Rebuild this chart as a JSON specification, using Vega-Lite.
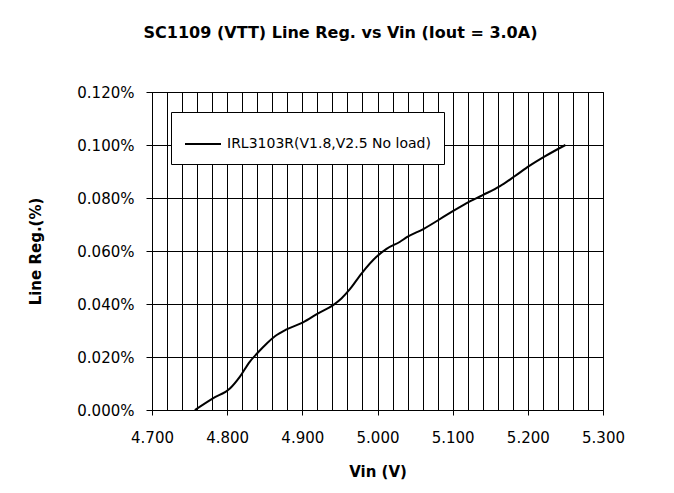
{
  "$schema": "https://vega.github.io/schema/vega-lite/v6.json",
  "autosize": "none",
  "width": 451,
  "height": 318,
  "padding": {"left": 152, "top": 92, "right": 71, "bottom": 83},
  "background": "white",
  "title": {
    "text": "SC1109 (VTT) Line Reg. vs Vin (Iout = 3.0A)",
    "font": "DejaVu Sans",
    "fontSize": 16,
    "fontWeight": "bold",
    "color": "black",
    "anchor": "middle",
    "dx": -37,
    "offset": 44
  },
  "data": {
    "values": [
      {"vin": 4.757, "reg": 0},
      {"vin": 4.781, "reg": 0.0044},
      {"vin": 4.804, "reg": 0.0082},
      {"vin": 4.817, "reg": 0.0126},
      {"vin": 4.830, "reg": 0.0182},
      {"vin": 4.840, "reg": 0.0214},
      {"vin": 4.853, "reg": 0.0252},
      {"vin": 4.864, "reg": 0.0279},
      {"vin": 4.879, "reg": 0.0304},
      {"vin": 4.901, "reg": 0.0331},
      {"vin": 4.921, "reg": 0.0365},
      {"vin": 4.941, "reg": 0.0396},
      {"vin": 4.952, "reg": 0.0421},
      {"vin": 4.963, "reg": 0.0455},
      {"vin": 4.979, "reg": 0.0516},
      {"vin": 4.999, "reg": 0.0579},
      {"vin": 5.012, "reg": 0.0608},
      {"vin": 5.030, "reg": 0.0635},
      {"vin": 5.039, "reg": 0.0652},
      {"vin": 5.061, "reg": 0.0683},
      {"vin": 5.092, "reg": 0.0736},
      {"vin": 5.118, "reg": 0.0780},
      {"vin": 5.140, "reg": 0.0811},
      {"vin": 5.163, "reg": 0.0845},
      {"vin": 5.182, "reg": 0.0881},
      {"vin": 5.202, "reg": 0.0921},
      {"vin": 5.222, "reg": 0.0956},
      {"vin": 5.250, "reg": 0.1000}
    ]
  },
  "mark": {"type": "line", "interpolate": "monotone", "strokeWidth": 2, "clip": true},
  "encoding": {
    "x": {
      "field": "vin",
      "type": "quantitative",
      "scale": {"domain": [4.7, 5.3], "nice": false, "zero": false},
      "axis": {
        "title": "Vin (V)",
        "values": [4.70, 4.72, 4.74, 4.76, 4.78, 4.80, 4.82, 4.84, 4.86, 4.88, 4.90, 4.92, 4.94, 4.96, 4.98, 5.00, 5.02, 5.04, 5.06, 5.08, 5.10, 5.12, 5.14, 5.16, 5.18, 5.20, 5.22, 5.24, 5.26, 5.28, 5.30],
        "labelExpr": "abs(datum.value*10 - round(datum.value*10)) < 0.001 ? format(datum.value, '.3f') : ''",
        "labelOverlap": false,
        "labelFlush": false,
        "tickOpacity": {"condition": {"test": "abs(datum.value*10 - round(datum.value*10)) < 0.001", "value": 1}, "value": 0},
        "tickSize": 5,
        "labelPadding": 15,
        "titlePadding": 19
      }
    },
    "y": {
      "field": "reg",
      "type": "quantitative",
      "scale": {"domain": [0, 0.12], "nice": false},
      "axis": {
        "title": "Line Reg.(%)",
        "values": [0, 0.02, 0.04, 0.06, 0.08, 0.10, 0.12],
        "labelExpr": "format(datum.value, '.3f') + '%'",
        "tickSize": 6,
        "labelPadding": 12,
        "titlePadding": 33
      }
    },
    "color": {
      "datum": "IRL3103R(V1.8,V2.5 No load)",
      "type": "nominal",
      "scale": {"range": ["black"]},
      "legend": {
        "title": null,
        "orient": "none",
        "legendX": 19,
        "legendY": 20,
        "padding": 13,
        "fillColor": "white",
        "strokeColor": "black",
        "symbolType": "stroke",
        "symbolSize": 1296,
        "symbolStrokeWidth": 2,
        "symbolStrokeColor": "black",
        "labelFontSize": 14,
        "labelOffset": 5,
        "labelColor": "black",
        "labelLimit": 400
      }
    }
  },
  "config": {
    "font": "DejaVu Sans",
    "view": {"stroke": "black", "strokeWidth": 1},
    "axis": {
      "grid": true,
      "gridColor": "black",
      "gridOpacity": 1,
      "gridWidth": 1,
      "domainColor": "black",
      "tickColor": "black",
      "labelColor": "black",
      "labelFontSize": 15,
      "labelFont": "DejaVu Sans",
      "titleColor": "black",
      "titleFont": "DejaVu Sans",
      "titleFontSize": 15,
      "titleFontWeight": "bold"
    }
  }
}
